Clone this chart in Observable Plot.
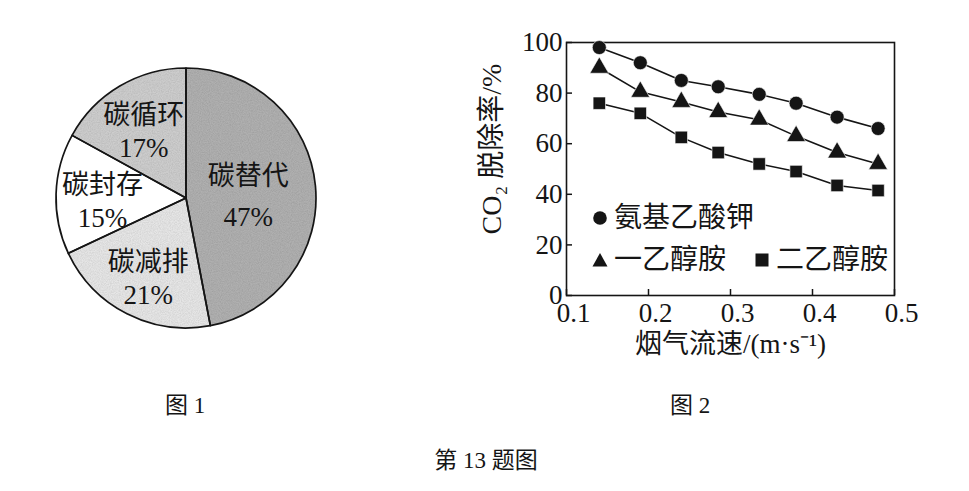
<!DOCTYPE html>
<html><head><meta charset="utf-8">
<script src="https://cdn.jsdelivr.net/npm/d3@7"></script>
<script src="https://cdn.jsdelivr.net/npm/@observablehq/plot@0.6"></script>
<style>
body{margin:0;background:#fff;}
#root{position:relative;width:969px;height:491px;font-family:"Liberation Serif","Noto Sans CJK SC",serif;color:#151515;overflow:hidden;}
.abs{position:absolute;white-space:nowrap;}
.cap{font-size:23px;transform:translate(-50%,-50%);}
.leg{font-size:28px;line-height:1;display:flex;align-items:center;transform:translateY(-50%);}
.leg svg{margin-right:6px;}
</style></head><body><div id="root"></div>
<script>
// ---- Figure 1 (pie) data ----
const pieCats = ["碳替代", "碳减排", "碳封存", "碳循环"];
const pieVals = [47, 21, 15, 17];
const pieFills = ["#b0b0b0", "#e6e6e6", "#ffffff", "#cdcdcd"];

// ---- Figure 2 (lines) data ----
const speeds = [0.14, 0.19, 0.24, 0.285, 0.335, 0.38, 0.43, 0.48];
const seriesNames = ["氨基乙酸钾", "一乙醇胺", "二乙醇胺"];
const glycinate = [98, 92, 85, 82.5, 79.5, 76, 70.5, 66];
const mea = [90, 80.5, 76.5, 72.5, 69.5, 63, 56.5, 52];
const dea = [76, 72, 62.5, 56.5, 52, 49, 43.5, 41.5];
const seriesSymbols = ["circle", "triangle", "square"];
const xTicks = [0.1, 0.2, 0.3, 0.4, 0.5];
const yTicks = [0, 20, 40, 60, 80, 100];
const xLabel = "烟气流速/(m·s⁻¹)";
const yLabel = "CO₂ 脱除率/%";
const captions = ["图 1", "图 2", "第 13 题图"];

const root = document.getElementById("root");
const FONT = '"Liberation Serif","Noto Sans CJK SC",serif';
const INK = "#151515";

// ---------- Pie ----------
const R = 130;
const pieData = pieCats.map((c, i) => ({cat: c, v: pieVals[i], fill: pieFills[i]}));
const arcs = d3.pie().sort(null).value(d => d.v)(pieData);
const labels = arcs.map(a => {
  const mid = (a.startAngle + a.endAngle) / 2;
  const lr = a.data.v >= 40 ? 62 : 84;
  return {x: lr * Math.sin(mid), y: lr * Math.cos(mid), text: a.data.cat + "\n" + a.data.v + "%", big: a.data.v >= 40};
});

function pieRender(...args) {
  const scales = args.find(a => a && typeof a.x === "function" && typeof a.y === "function");
  const cx = scales.x(0), cy = scales.y(0);
  const r = scales.x(R) - cx;
  const arc = d3.arc().innerRadius(0).outerRadius(r);
  const g = d3.create("svg:g");
  const defs = g.append("defs");
  const f = defs.append("filter").attr("id", "grain").attr("x", "0").attr("y", "0").attr("width", "100%").attr("height", "100%");
  f.append("feTurbulence").attr("type", "fractalNoise").attr("baseFrequency", "0.9").attr("numOctaves", 2).attr("seed", 3).attr("result", "n");
  f.append("feColorMatrix").attr("in", "n").attr("type", "matrix")
    .attr("values", "0 0 0 0 0  0 0 0 0 0  0 0 0 0 0  0 0 0 0.32 -0.09").attr("result", "a");
  f.append("feComposite").attr("in", "a").attr("in2", "SourceGraphic").attr("operator", "in").attr("result", "b");
  const m = f.append("feMerge");
  m.append("feMergeNode").attr("in", "SourceGraphic");
  m.append("feMergeNode").attr("in", "b");
  const p = g.append("g").attr("transform", `translate(${cx},${cy})`);
  p.selectAll("path.fill").data(arcs).join("path")
    .attr("class", "fill")
    .attr("d", arc)
    .attr("fill", d => d.data.fill)
    .attr("filter", d => d.data.fill === "#ffffff" ? null : "url(#grain)");
  p.selectAll("path.edge").data(arcs).join("path")
    .attr("class", "edge")
    .attr("d", arc)
    .attr("fill", "none")
    .attr("stroke", INK)
    .attr("stroke-width", 1.7)
    .attr("stroke-linejoin", "round");
  return g.node();
}

const pie = Plot.plot({
  width: 300, height: 300,
  margin: 0,
  x: {domain: [-150, 150], axis: null},
  y: {domain: [-150, 150], axis: null},
  style: {fontFamily: FONT, background: "transparent", color: INK, overflow: "visible"},
  marks: [
    pieRender,
    Plot.text(labels.filter(d => !d.big), {x: "x", y: "y", dy: 4, text: "text", fontSize: 27, lineHeight: 1.22, fill: INK}),
    Plot.text(labels.filter(d => d.big), {x: "x", y: "y", text: "text", fontSize: 27, lineHeight: 1.5, fill: INK})
  ]
});
pie.style.position = "absolute";
pie.style.left = "36px";
pie.style.top = "48px";
root.appendChild(pie);

// ---------- Line chart ----------
const valuesBySeries = [glycinate, mea, dea];
const rows = [];
seriesNames.forEach((s, si) => speeds.forEach((x, i) => rows.push({series: s, x, y: valuesBySeries[si][i]})));

const chart = Plot.plot({
  width: 450, height: 380,
  marginLeft: 86, marginRight: 36, marginTop: 42, marginBottom: 85,
  x: {domain: [0.1, 0.5]},
  y: {domain: [0, 100]},
  symbol: {domain: seriesNames, range: seriesSymbols},
  style: {fontFamily: FONT, fontSize: "27px", background: "transparent", color: INK, overflow: "visible"},
  marks: [
    Plot.axisX({ticks: xTicks, tickSize: -6, text: null, label: null, strokeWidth: 1.5}),
    Plot.axisX({ticks: xTicks, tickSize: 0, tickPadding: 7, tickFormat: d => d.toFixed(1), label: null, fontSize: 27, dx: 7}),
    Plot.axisY({ticks: yTicks, tickSize: -6, text: null, label: null, strokeWidth: 1.5}),
    Plot.axisY({ticks: yTicks, tickSize: 0, tickPadding: 4, label: null, fontSize: 27}),
    Plot.frame({stroke: INK, strokeWidth: 1.6}),
    Plot.line(rows, {x: "x", y: "y", z: "series", stroke: INK, strokeWidth: 1.6}),
    Plot.dot(rows, {x: "x", y: "y", symbol: "series", fill: INK, stroke: "white", strokeWidth: 0.6, r: 7}),
    Plot.text([yLabel], {frameAnchor: "left", textAnchor: "middle", rotate: -90, dx: -74, dy: -20, fontSize: 28, fill: INK}),
    Plot.text([xLabel], {frameAnchor: "bottom", textAnchor: "middle", dy: 57, fontSize: 27, fill: INK})
  ]
});
chart.style.position = "absolute";
chart.style.left = "480px";
chart.style.top = "0px";
root.appendChild(chart);

// ---------- Legend (HTML) ----------
function symSvg(kind) {
  const s = 16;
  let shape;
  if (kind === "circle") shape = `<circle cx="8" cy="8" r="6.8" fill="${INK}"/>`;
  else if (kind === "triangle") shape = `<path d="M8,1 L15.5,14.5 L0.5,14.5 Z" fill="${INK}"/>`;
  else shape = `<rect x="1.5" y="1.5" width="13" height="13" fill="${INK}"/>`;
  return `<svg width="${s}" height="${s}" viewBox="0 0 16 16">${shape}</svg>`;
}
const legendPos = [[592, 218], [592, 260], [754, 260]];
seriesNames.forEach((n, i) => {
  const d = document.createElement("div");
  d.className = "abs leg";
  d.style.left = legendPos[i][0] + "px";
  d.style.top = legendPos[i][1] + "px";
  d.innerHTML = symSvg(seriesSymbols[i]) + `<span>${n}</span>`;
  root.appendChild(d);
});

// ---------- Captions ----------
const capPos = [[185, 403], [690, 403], [486, 458]];
captions.forEach((c, i) => {
  const d = document.createElement("div");
  d.className = "abs cap";
  d.style.left = capPos[i][0] + "px";
  d.style.top = capPos[i][1] + "px";
  d.textContent = c;
  root.appendChild(d);
});
</script>
</body></html>
